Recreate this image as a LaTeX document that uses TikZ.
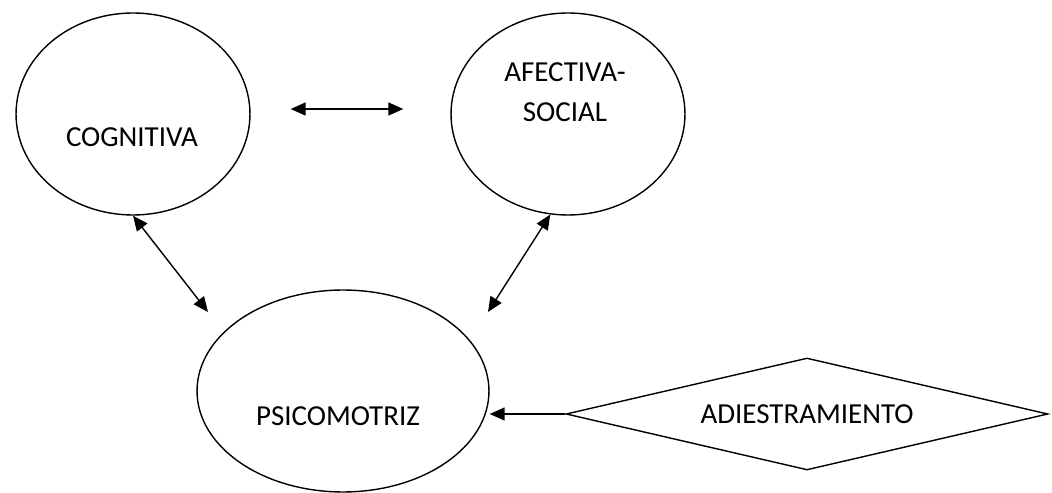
\documentclass[tikz,border=0pt]{standalone}
\usepackage{fontspec}
\setmainfont{Carlito}
\usetikzlibrary{positioning, shapes.geometric, arrows.meta}

\begin{document}
\begin{tikzpicture}[
    x=0.02cm, y=-0.02cm,
    >={Triangle[length=0.3cm, width=0.26cm]},
    oval/.style={draw, thick, ellipse, inner sep=0pt, minimum width=4.68cm, minimum height=4.04cm},
    tag/.style={font=\fontsize{16.5}{22.8}\selectfont, align=center, inner sep=0pt},
    rombo/.style={draw, thick, diamond, aspect=4.3, inner sep=0pt, minimum width=9.64cm, minimum height=2.24cm, font=\fontsize{16.5}{22.8}\selectfont}
]
\useasboundingbox (0,0) rectangle (1052,493);

\node[oval] (cog) at (133,114) {};
\node[oval] (afe) at (568,114) {};
\node[oval, minimum width=5.84cm] (psi) at (343,391) {};
\node[rombo] (adi) at (807,414) {ADIESTRAMIENTO};

\node[tag] (cogtxt) at (132,137) {COGNITIVA};
\node[tag] (afetxt) at (565,92) {AFECTIVA-\\SOCIAL};
\node[tag] (psitxt) at (338,416) {PSICOMOTRIZ};

\coordinate (cogend) at (208,312);
\coordinate (afeend) at (488,312);

\draw[<->, thick, shorten <=0.8cm, shorten >=0.94cm] ([yshift=0.1cm]cog.east) -- ([yshift=0.1cm]afe.west);
\draw[<->, thick] (cog.south) -- (cogend);
\draw[<->, thick] (afe.-100) -- (afeend);
\draw[->, thick] (adi.west) -- (adi.west -| psi.east);
\end{tikzpicture}
\end{document}
